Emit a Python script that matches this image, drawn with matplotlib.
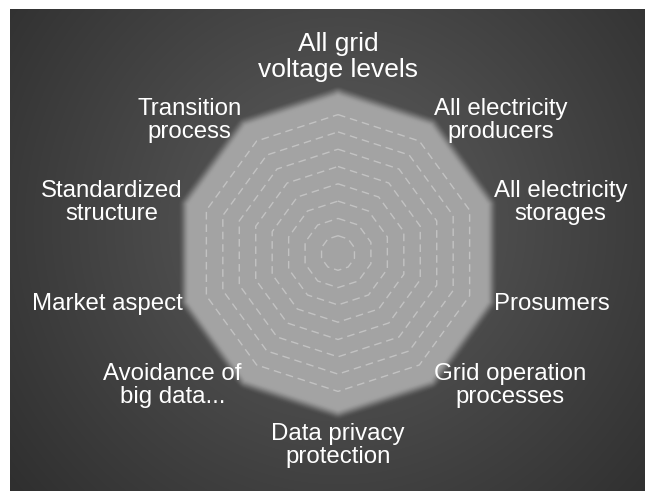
import numpy as np
import matplotlib
matplotlib.use("Agg")
import matplotlib.pyplot as plt

# ---------------- data ----------------
categories = [
    "All grid\nvoltage levels",
    "All electricity\nproducers",
    "All electricity\nstorages",
    "Prosumers",
    "Grid operation\nprocesses",
    "Data privacy\nprotection",
    "Avoidance of\nbig data...",
    "Market aspect",
    "Standardized\nstructure",
    "Transition\nprocess",
]
values = [9, 9, 9, 9, 9, 9, 9, 9, 9, 9]
max_value = 9
grid_levels = [1, 2, 3, 4, 5, 6, 7, 8]

# ---------------- layout / style ----------------
W, H = 645, 494
fig = plt.figure(figsize=(W / 100, H / 100), dpi=100)
fig.patch.set_facecolor("white")

# background panel with radial gradient
pw, ph = 635, 482
bg = fig.add_axes([10 / W, 3 / H, pw / W, ph / H])
yy, xx = np.mgrid[0:ph, 0:pw]
d = np.hypot(xx - 328, yy - 215) / 430.0
t = np.clip(d, 0, 1)
c = (0x5e / 255) * (1 - t) + (0x2e / 255) * t
img = np.dstack([c, c, c])
bg.imshow(img, extent=[0, 1, 0, 1], aspect="auto", origin="upper", interpolation="bilinear")
bg.axis("off")

# radar axes
cx_px, cy_px = 338, 253
unit = 17.3
rlim = 10.5
R_px = rlim * unit
ax = fig.add_axes([(cx_px - R_px) / W, (H - cy_px - R_px) / H, 2 * R_px / W, 2 * R_px / H],
                  projection="polar")
ax.set_theta_offset(np.pi / 2)
ax.set_theta_direction(-1)
ax.set_ylim(0, rlim)
ax.axis("off")
ax.patch.set_alpha(0)

N = len(categories)
theta = np.linspace(0, 2 * np.pi, N, endpoint=False)
theta_c = np.append(theta, theta[0])
vals = np.array(values, dtype=float)
vals_c = np.append(vals, vals[0])

fill_color = "#a3a3a3"
ax.fill(theta_c, vals_c, color=fill_color, alpha=1.0, lw=0, zorder=2)

# soft (blurred, rounded) edge: stacked round-joined strokes giving a smooth fall-off
blur_px = 12.0
widths = np.arange(24, 0, -1)
target = 0.5 * (1 + np.cos(np.pi * np.clip(widths / 2 - 0.5, 0, blur_px) / blur_px))
target = np.clip(target, 0, 0.995)
prev = 0.0
for w_px, cum in zip(widths, target):
    a = 1 - (1 - cum) / (1 - prev)
    prev = cum
    if a <= 0:
        continue
    ax.plot(theta_c, vals_c, color=fill_color, alpha=float(a), lw=w_px * 0.72,
            solid_joinstyle="round", solid_capstyle="round", zorder=2.5)

# dashed polygon grid
for lvl in grid_levels:
    ax.plot(theta_c, np.full_like(theta_c, lvl), color="#d0d0d0", lw=1.0,
            linestyle=(0, (5.5, 3.5)), alpha=0.7, zorder=3)

# labels
gap_px = {"side": 8, "top": 15, "bottom": 14}
for th, lab in zip(theta, categories):
    phi = np.pi / 2 - th
    dx, dy = np.cos(phi), np.sin(phi)
    if abs(dx) < 1e-6:
        ha = "center"
        va = "bottom" if dy > 0 else "top"
        g = gap_px["top"] if dy > 0 else gap_px["bottom"]
    else:
        ha = "left" if dx > 0 else "right"
        va = "center"
        g = gap_px["side"]
    fs = 19 if (abs(dx) < 1e-6 and dy > 0) else 17.3
    ax.annotate(lab, xy=(th, max_value), xytext=(g * dx, g * dy),
                textcoords="offset pixels", ha=ha, va=va, multialignment="center",
                color="white", fontsize=fs, family="Liberation Sans",
                linespacing=1.1, annotation_clip=False, zorder=5)

fig.savefig("out.png", dpi=100, facecolor="white")
